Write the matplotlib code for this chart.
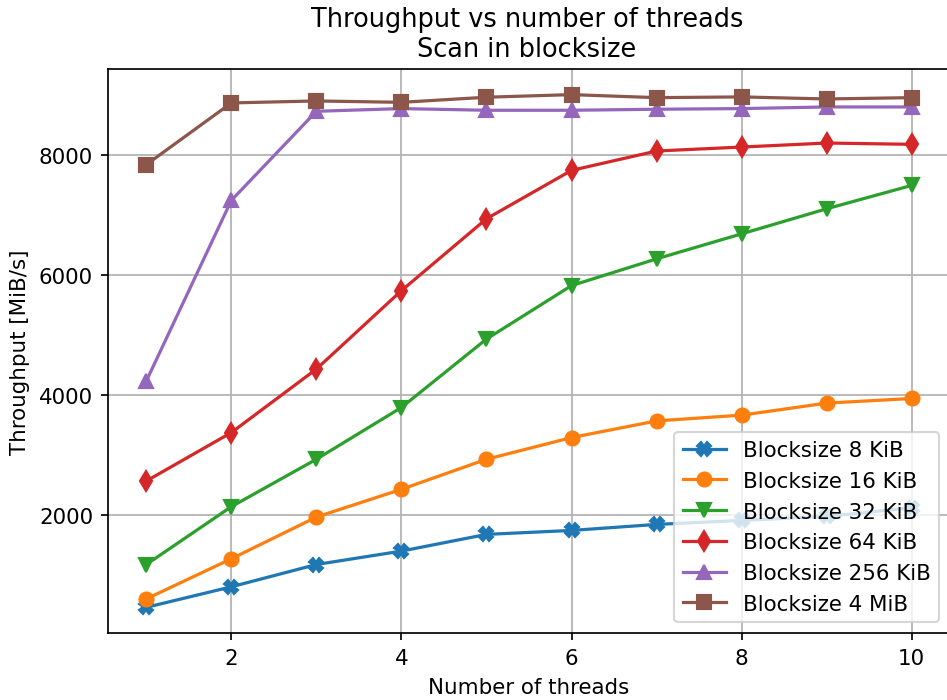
import matplotlib
matplotlib.use('Agg')
import matplotlib.pyplot as plt

threads = [1, 2, 3, 4, 5, 6, 7, 8, 9, 10]

# throughput in MiB/s
bs_8k = [470, 812, 1183, 1406, 1684, 1750, 1850, 1917, 1983, 2128]
bs_16k = [611, 1278, 1972, 2434, 2934, 3295, 3572, 3668, 3868, 3945]
bs_32k = [1183, 2145, 2934, 3795, 4934, 5823, 6268, 6684, 7101, 7490]
bs_64k = [2572, 3378, 4434, 5739, 6935, 7740, 8062, 8128, 8195, 8173]
bs_256k = [4234, 7240, 8723, 8768, 8740, 8740, 8757, 8768, 8795, 8795]
bs_4m = [7835, 8862, 8895, 8872, 8957, 9000, 8950, 8962, 8928, 8950]

series = [
    (bs_8k, 'X', 'Blocksize 8 KiB'),
    (bs_16k, 'o', 'Blocksize 16 KiB'),
    (bs_32k, 'v', 'Blocksize 32 KiB'),
    (bs_64k, 'd', 'Blocksize 64 KiB'),
    (bs_256k, '^', 'Blocksize 256 KiB'),
    (bs_4m, 's', 'Blocksize 4 MiB'),
]

dpi = 154
fig = plt.figure(figsize=(947 / dpi, 701 / dpi), dpi=dpi)
# right spine falls just outside the picture, as in the reference
ax = fig.add_axes([108 / 947, 1 - 634 / 701, (950 - 108) / 947, (634 - 70) / 701])

for values, marker, label in series:
    ax.plot(threads, values, marker=marker, markersize=6.5, label=label)

ax.set_xlabel('Number of threads')
ax.set_ylabel('Throughput [MiB/s]')
ax.set_title('Throughput vs number of threads\nScan in blocksize', x=(527 - 108) / (950 - 108))
ax.legend(loc='lower right')
ax.grid(True)

fig.savefig('out.png', dpi=dpi)
